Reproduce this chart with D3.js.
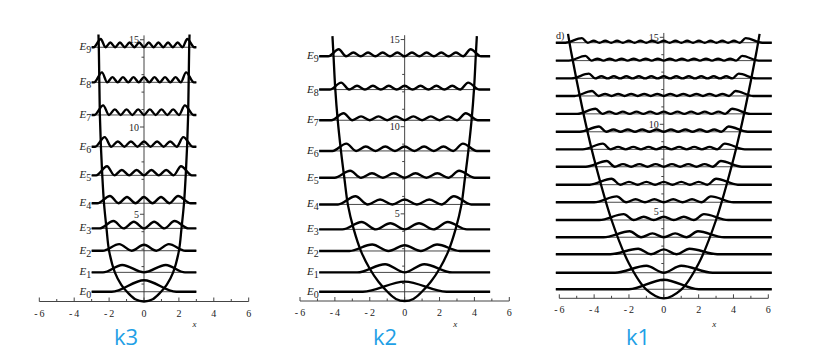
<!DOCTYPE html>
<html>
<head>
<meta charset="utf-8">
<script src="https://cdn.jsdelivr.net/npm/d3@7"></script>
<style>
  html, body { margin: 0; padding: 0; background: #fff; }
  svg { display: block; }
</style>
</head>
<body>
<div id="chart"></div>
<script>
const SERIF = "'Liberation Serif', 'DejaVu Serif', serif";

/* Shared axis data */
const xTicks = [-6, -4, -2, 0, 2, 4, 6];
const yTicks = [5, 10, 15];
const panelNames = ['k3', 'k2', 'k1'];
const waveSpan = [3, 4.9, 6.2];

/* k3 panel: level energies, outer peak position, peak heights, tail length */
const k3Levels = [0.56, 1.67, 2.91, 4.19, 5.63, 7.23, 8.87, 10.69, 12.56, 14.57];
const k3Outer = [0, 1.25, 1.42, 1.75, 1.95, 2.12, 2.25, 2.34, 2.41, 2.48];
const k3AmpOuter = [0.66, 0.42, 0.38, 0.42, 0.42, 0.52, 0.55, 0.55, 0.57, 0.47];
const k3AmpInner = [0.66, 0.42, 0.34, 0.38, 0.36, 0.31, 0.3, 0.32, 0.3, 0.27];
const k3Tail = [1.85, 1.1, 0.95, 0.8, 0.72, 0.62, 0.55, 0.5, 0.45, 0.4];
const k3PotX = [0, 0.5, 0.95, 1.3, 1.67, 2.0, 2.15, 2.29, 2.39, 2.47, 2.53, 2.56, 2.59, 2.61];
const k3PotV = [0, 0.13, 0.53, 0.95, 1.67, 2.9, 4.2, 5.6, 7.2, 8.9, 10.7, 12.6, 14.6, 15.3];

/* k2 panel */
const k2Levels = [0.53, 1.64, 2.87, 4.11, 5.54, 7.07, 8.61, 10.37, 12.13, 14.04];
const k2Outer = [0, 1.12, 1.86, 2.47, 2.82, 3.12, 3.34, 3.5, 3.64, 3.78];
const k2AmpOuter = [0.58, 0.47, 0.37, 0.42, 0.47, 0.4, 0.42, 0.4, 0.4, 0.4];
const k2AmpInner = [0.58, 0.47, 0.33, 0.35, 0.28, 0.26, 0.25, 0.22, 0.22, 0.22];
const k2Tail = [2.4, 1.6, 1.3, 1.1, 1.0, 0.9, 0.8, 0.7, 0.65, 0.6];
const k2PotX = [0, 0.5, 0.96, 1.5, 2.0, 2.5, 2.93, 3.25, 3.45, 3.65, 3.84, 3.98, 4.08, 4.14];
const k2PotV = [0, 0.12, 0.5, 1.1, 1.85, 2.85, 4.15, 5.5, 7.0, 8.6, 10.4, 12.2, 14.1, 15.2];

/* k1 panel */
const k1Levels = [0.52, 1.47, 2.53, 3.51, 4.5, 5.52, 6.53, 7.56, 8.56, 9.57, 10.6, 11.63, 12.64, 13.66, 14.69];
const k1Outer = [0, 1.0, 1.47, 1.96, 2.3, 2.7, 3.0, 3.28, 3.5, 3.72, 3.92, 4.12, 4.3, 4.5, 4.7];
const k1AmpOuter = [0.55, 0.4, 0.32, 0.34, 0.34, 0.34, 0.34, 0.33, 0.33, 0.3, 0.29, 0.28, 0.27, 0.27, 0.26];
const k1AmpInner = [0.55, 0.4, 0.28, 0.22, 0.19, 0.17, 0.16, 0.15, 0.14, 0.13, 0.13, 0.12, 0.12, 0.11, 0.11];
const k1Tail = [2.0, 1.8, 1.6, 1.5, 1.4, 1.3, 1.25, 1.2, 1.15, 1.1, 1.05, 1.0, 1.0, 0.95, 0.95];
const k1PotX = [0, 1, 2, 3, 4, 4.5, 5, 5.3, 5.5];
const k1PotV = [0, 0.5, 2, 4.5, 8, 10.1, 12.5, 14.05, 15.2];

/* Layout (pixel frames of each panel) */
const frames = [
  { left: 39.3, right: 248.7, y0: 301.5, unit: 17.45, labels: true, nameX: 114 },
  { left: 300, right: 509.3, y0: 301, unit: 17.43, labels: true, nameX: 373 },
  { left: 559.3, right: 768.3, y0: 298.3, unit: 17.4, labels: false, nameX: 626 }
];

const panels = [
  { levels: k3Levels, outer: k3Outer, ampO: k3AmpOuter, ampI: k3AmpInner, tail: k3Tail, potX: k3PotX, potV: k3PotV },
  { levels: k2Levels, outer: k2Outer, ampO: k2AmpOuter, ampI: k2AmpInner, tail: k2Tail, potX: k2PotX, potV: k2PotV },
  { levels: k1Levels, outer: k1Outer, ampO: k1AmpOuter, ampI: k1AmpInner, tail: k1Tail, potX: k1PotX, potV: k1PotV }
];

const svg = d3.select('#chart')
  .append('svg')
  .attr('width', 820)
  .attr('height', 353);

panels.forEach((p, i) => drawPanel(svg, p, frames[i], waveSpan[i], panelNames[i]));

// vertices of one density curve: nodes on the baseline, peaks in between
function levelPoints (n, outer, tail, ampO, ampI, span) {
  const pts = [[-span, 0]];
  if (n === 0) {
    pts.push([-tail, 0], [0, ampO], [tail, 0]);
  } else {
    const step = 2 * outer / n;
    pts.push([-outer - tail, 0]);
    for (let k = 0; k <= n; k++) {
      const x = -outer + k * step;
      pts.push([x, (k === 0 || k === n) ? ampO : ampI]);
      if (k < n) pts.push([x + step / 2, 0]);
    }
    pts.push([outer + tail, 0]);
  }
  pts.push([span, 0]);
  return pts;
}

function drawPanel (svg, p, f, span, name) {
  const xScale = d3.scaleLinear().domain([-6, 6]).range([f.left, f.right]);
  const yScale = d3.scaleLinear().domain([0, 15]).range([f.y0, f.y0 - 15 * f.unit]);
  const g = svg.append('g');

  // x axis
  g.append('line')
    .attr('x1', xScale(-6)).attr('x2', xScale(6))
    .attr('y1', yScale(0)).attr('y2', yScale(0))
    .attr('stroke', '#444').attr('stroke-width', 1);
  g.selectAll('.xminor')
    .data(d3.range(-6, 7))
    .enter().append('line')
    .attr('x1', d => xScale(d)).attr('x2', d => xScale(d))
    .attr('y1', yScale(0)).attr('y2', d => yScale(0) - (d % 2 === 0 ? 4 : 2.5))
    .attr('stroke', '#444').attr('stroke-width', 1);
  g.selectAll('.xlab')
    .data(xTicks)
    .enter().append('text')
    .attr('x', d => xScale(d))
    .attr('y', yScale(0) + 15)
    .attr('text-anchor', 'middle')
    .style('font-family', SERIF).style('font-size', '10px').style('fill', '#222')
    .text(d => d < 0 ? '-\u2009' + Math.abs(d) : d);
  g.append('text')
    .attr('x', xScale(2.9)).attr('y', 327)
    .attr('text-anchor', 'middle')
    .style('font-family', SERIF).style('font-style', 'italic').style('font-size', '9px').style('fill', '#222')
    .text('x');

  // y axis
  g.append('line')
    .attr('x1', xScale(0)).attr('x2', xScale(0))
    .attr('y1', yScale(0)).attr('y2', yScale(15.25))
    .attr('stroke', '#444').attr('stroke-width', 1);
  g.selectAll('.yminor')
    .data(d3.range(1, 16))
    .enter().append('line')
    .attr('x1', xScale(0)).attr('x2', d => xScale(0) - (d % 5 === 0 ? 4 : 2.5))
    .attr('y1', d => yScale(d)).attr('y2', d => yScale(d))
    .attr('stroke', '#444').attr('stroke-width', 1);
  g.selectAll('.ylab')
    .data(yTicks)
    .enter().append('text')
    .attr('x', xScale(0) - 5)
    .attr('y', d => yScale(d) + 3.5)
    .attr('text-anchor', 'end')
    .style('font-family', SERIF).style('font-size', '10px').style('fill', '#222')
    .text(d => d);

  // energy baselines
  g.selectAll('.base')
    .data(p.levels)
    .enter().append('line')
    .attr('x1', xScale(-span)).attr('x2', xScale(span))
    .attr('y1', d => yScale(d)).attr('y2', d => yScale(d))
    .attr('stroke', '#333').attr('stroke-width', 0.9);

  // potential
  const potPts = p.potX.map((x, k) => [-x, p.potV[k]]).reverse()
    .concat(p.potX.slice(1).map((x, k) => [x, p.potV[k + 1]]));
  g.append('path')
    .attr('d', d3.line()
      .x(d => xScale(d[0]))
      .y(d => yScale(d[1]))
      .curve(d3.curveCatmullRom.alpha(0.5))(potPts))
    .attr('fill', 'none').attr('stroke', '#000').attr('stroke-width', 2.3);

  // probability densities
  const waveLine = d3.line().curve(d3.curveMonotoneX);
  g.selectAll('.wave')
    .data(p.levels)
    .enter().append('path')
    .attr('d', (E, n) => waveLine(
      levelPoints(n, p.outer[n], p.tail[n], p.ampO[n], p.ampI[n], span)
        .map(d => [xScale(d[0]), yScale(E + d[1])])))
    .attr('fill', 'none').attr('stroke', '#000').attr('stroke-width', 2.4)
    .attr('stroke-linejoin', 'round');

  // level labels
  if (f.labels) {
    const lab = g.selectAll('.lvl')
      .data(p.levels)
      .enter().append('text')
      .attr('x', xScale(-span) - 0.5)
      .attr('y', d => yScale(d) + 3)
      .attr('text-anchor', 'end')
      .style('font-family', SERIF).style('fill', '#222');
    lab.append('tspan').style('font-size', '11px').style('font-style', 'italic').text('E');
    lab.append('tspan').attr('dy', 3).style('font-size', '10px').text((d, n) => n);
  } else {
    g.append('text')
      .attr('x', 556).attr('y', 39)
      .style('font-family', SERIF).style('font-size', '10px').style('fill', '#222')
      .text('d)');
  }

  svg.append('text')
    .attr('x', f.nameX).attr('y', 345)
    .style('font-family', "'Open Sans', 'Noto Sans', sans-serif")
    .style('font-size', '22px').style('fill', '#1ea0e6')
    .text(name);
}
</script>
</body>
</html>
